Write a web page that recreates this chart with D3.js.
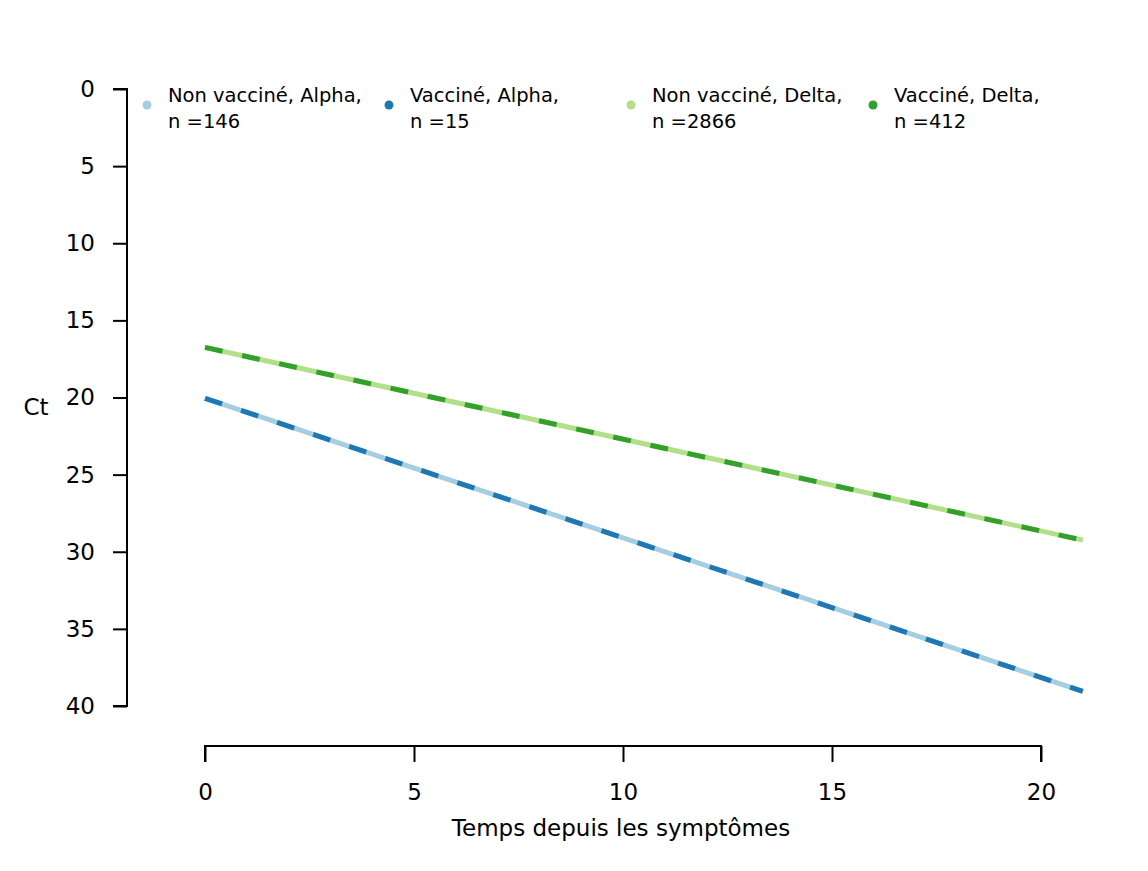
<!DOCTYPE html>
<html>
<head>
<meta charset="utf-8">
<script src="https://cdn.jsdelivr.net/npm/d3@7"></script>
<style>
  body { margin: 0; background: #fff; }
  svg text { font-family: "DejaVu Sans", sans-serif; fill: #000; }
</style>
</head>
<body>
<svg id="chart" width="1148" height="871"></svg>
<script>
// fitted lines: Ct at day 0 and day 21
const groups = ["Non vacciné, Alpha,", "Vacciné, Alpha,", "Non vacciné, Delta,", "Vacciné, Delta,"];
const counts = [146, 15, 2866, 412];
const colors = ["#a6cee3", "#1f78b4", "#b2df8a", "#33a02c"];
const days = [0, 21];
const ctStart = [20.05, 20.05, 16.75, 16.75];
const ctEnd = [39.05, 39.05, 29.25, 29.25];
const xTicks = [0, 5, 10, 15, 20];
const yTicks = [0, 5, 10, 15, 20, 25, 30, 35, 40];

const svg = d3.select("#chart");

const x = d3.scaleLinear().domain([0, 20]).range([205, 1041]);
const y = d3.scaleLinear().domain([0, 40]).range([89, 706]);

// y axis
const yAxis = svg.append("g").attr("transform", "translate(127,0)")
	.call(d3.axisLeft(y).tickValues(yTicks).tickSize(14).tickPadding(18));
yAxis.select(".domain").attr("stroke-width", 2).attr("d", `M-14,${y(0)}H0V${y(40)}H-14`);
yAxis.selectAll(".tick line").attr("stroke-width", 2);
yAxis.selectAll(".tick text").attr("font-size", 23).attr("font-family", "DejaVu Sans");

// x axis
const xAxis = svg.append("g").attr("transform", "translate(0,746)")
	.call(d3.axisBottom(x).tickValues(xTicks).tickSize(16).tickPadding(22));
xAxis.select(".domain").attr("stroke-width", 2).attr("d", `M${x(0)},16V0H${x(20)}V16`);
xAxis.selectAll(".tick line").attr("stroke-width", 2);
xAxis.selectAll(".tick text").attr("font-size", 23).attr("font-family", "DejaVu Sans");

svg.append("text").attr("x", 621).attr("y", 836).attr("text-anchor", "middle")
	.attr("font-size", 23).text("Temps depuis les symptômes");
svg.append("text").attr("x", 36).attr("y", 415).attr("text-anchor", "middle")
	.attr("font-size", 23).text("Ct");

// lines: unvaccinated solid, vaccinated dashed on top
const line = d3.line().x(d => x(d[0])).y(d => y(d[1]));
const order = [0, 2, 1, 3];
order.forEach(i => {
	const pts = days.map((d, j) => [d, j === 0 ? ctStart[i] : ctEnd[i]]);
	const vacc = i % 2 === 1;
	svg.append("path").attr("d", line(pts))
		.attr("fill", "none")
		.attr("stroke", colors[i])
		.attr("stroke-width", vacc ? 5 : 5)
		.attr("stroke-dasharray", vacc ? "18,20" : null);
});

// legend
const leg = svg.append("g");
groups.forEach((g, i) => {
	const lx = 147 + i * 242;
	leg.append("circle").attr("cx", lx).attr("cy", 105).attr("r", 4.5).attr("fill", colors[i]);
	leg.append("text").attr("x", lx + 21).attr("y", 102).attr("font-size", 19.5).text(g);
	leg.append("text").attr("x", lx + 21).attr("y", 128).attr("font-size", 19.5).text("n =" + counts[i]);
});
</script>
</body>
</html>
